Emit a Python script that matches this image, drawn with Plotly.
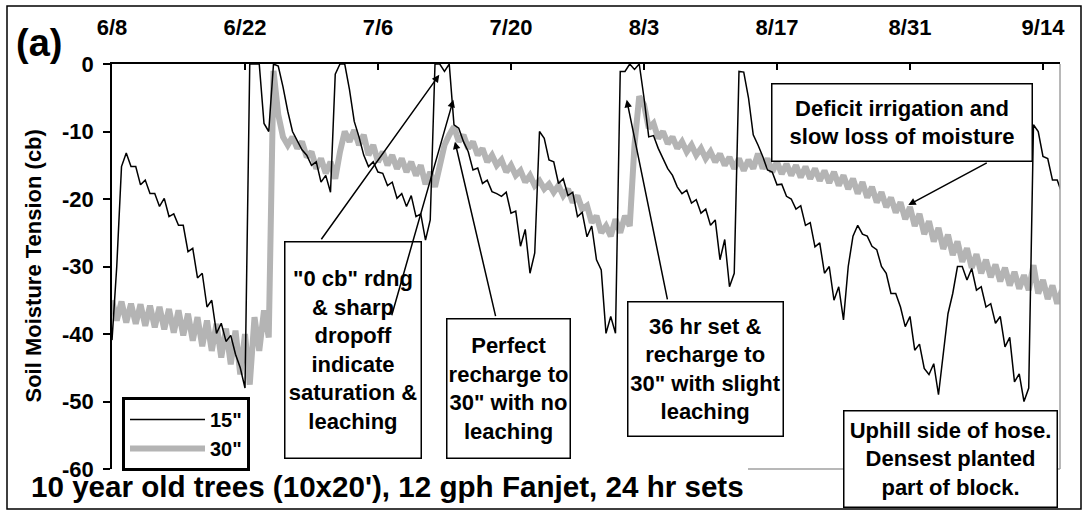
import pandas as pd
import plotly.graph_objects as go

# ---------------- data (readings every 12 hours, starting 6/8) ----------------
start_date = "2005-06-08"
step = "12h"

depth_15 = [
    -40.9, -30.0, -15.2, -13.2, -15.2, -15.2, -17.9, -17.2, -19.2, -19.2,
    -21.1, -19.9, -22.6, -22.2, -23.9, -23.9, -27.8, -27.3, -31.7, -31.0,
    -36.0, -35.0, -39.9, -38.4, -41.1, -40.2, -43.0, -45.0, -48.0, 0.0,
    0.0, 0.0, -8.8, -10.0, 0.0, -0.3, -3.4, -7.0, -10.0, -11.3,
    -12.7, -13.5, -15.0, -14.5, -17.5, -16.5, -19.0, -1.5, 0.0, 0.0,
    -3.8, -8.5, -10.8, -13.5, -15.2, -14.5, -16.0, -16.2, -18.0, -17.5,
    -19.9, -19.2, -21.1, -19.5, -22.6, -22.2, -26.1, -23.1, 0.0, 0.0,
    -1.1, 0.0, -9.0, -9.5, -11.5, -13.0, -15.7, -15.4, -17.7, -17.2,
    -18.9, -19.2, -19.6, -19.0, -22.1, -21.8, -27.0, -24.5, -31.0, -28.0,
    -10.0, -11.0, -14.2, -14.5, -17.7, -17.0, -19.5, -19.0, -22.6, -22.0,
    -25.6, -24.0, -29.0, -30.5, -39.9, -37.4, -39.9, -1.1, -1.1, 0.0,
    -0.8, 0.0, -5.0, -10.8, -10.6, -12.5, -14.0, -15.5, -16.5, -18.2,
    -19.2, -18.7, -20.6, -20.1, -22.1, -21.5, -23.9, -23.1, -29.0, -26.0,
    -33.0, -31.0, -1.1, -1.2, -5.0, -10.5, -12.0, -13.7, -15.7, -16.0,
    -17.9, -17.8, -19.6, -20.0, -21.5, -21.0, -23.9, -23.5, -27.1, -26.5,
    -31.0, -30.0, -35.0, -33.0, -37.9, -30.0, -25.5, -23.9, -25.2, -25.5,
    -27.0, -27.5, -30.0, -31.0, -34.0, -34.0, -36.0, -38.9, -37.4, -42.4,
    -41.5, -45.1, -46.0, -44.4, -49.0, -42.9, -37.0, -34.0, -30.0, -30.0,
    -32.0, -30.3, -33.5, -33.0, -36.0, -35.5, -38.4, -37.4, -41.9, -40.5,
    -47.1, -45.9, -50.0, -48.0, -9.0, -10.0, -13.7, -14.0, -17.2, -17.2,
    -19.2,
]

depth_30 = [
    -35.0, -38.0, -35.2, -38.3, -35.5, -38.5, -35.6, -38.8, -35.8, -39.0,
    -36.0, -39.3, -36.3, -39.8, -36.5, -40.2, -37.0, -41.0, -37.5, -41.8,
    -38.0, -42.5, -38.5, -43.5, -39.2, -44.5, -39.5, -46.0, -40.0, -47.5,
    -37.5, -42.5, -36.5, -40.5, -1.0, -7.5, -10.8, -12.0, -10.8, -12.5,
    -11.5, -13.8, -13.0, -15.5, -14.0, -16.2, -14.5, -17.0, -13.0, -10.0,
    -11.5, -9.8, -12.0, -10.5, -13.5, -12.0, -14.5, -13.0, -15.0, -13.5,
    -15.5, -14.0, -16.0, -14.5, -16.5, -15.0, -17.8, -16.0, -18.2, -15.0,
    -12.0, -10.5, -9.3, -11.5, -10.5, -12.5, -11.5, -13.5, -12.5, -14.5,
    -13.5, -15.0, -14.2, -16.0, -15.0, -16.5, -15.8, -17.5, -16.5, -18.0,
    -17.3, -18.5, -17.8, -19.0, -18.0, -19.5, -18.5, -20.5, -19.5, -21.5,
    -21.0, -23.5, -22.5, -25.0, -24.0, -25.5, -23.0, -25.0, -22.5, -24.0,
    -12.0, -4.8, -6.0, -9.5, -8.8, -11.0, -10.0, -11.8, -10.8, -12.5,
    -11.5, -13.0, -12.0, -13.5, -12.5, -14.0, -13.0, -14.5, -13.3, -15.0,
    -13.8, -15.5, -14.0, -15.8, -14.2, -15.5, -13.3, -15.5, -14.0, -16.0,
    -14.5, -16.3, -14.8, -16.5, -15.0, -16.8, -15.2, -17.0, -15.5, -17.3,
    -15.8, -17.6, -16.0, -18.0, -16.5, -18.5, -17.0, -19.2, -17.5, -19.8,
    -18.2, -20.5, -19.0, -21.2, -19.8, -22.0, -20.5, -23.0, -21.2, -24.0,
    -22.2, -25.2, -23.3, -26.3, -24.3, -27.4, -25.3, -28.3, -26.3, -29.3,
    -27.3, -30.2, -28.2, -31.0, -29.0, -31.6, -29.7, -32.2, -30.2, -32.8,
    -30.8, -33.3, -31.3, -33.5, -29.8, -34.0, -32.0, -34.8, -32.8, -35.5,
    -33.5,
]

series_names = ['15"', '30"']
x_range = ["2005-06-08", "2005-09-15 19:00"]
tick_dates = ["2005-06-08", "2005-06-22", "2005-07-06", "2005-07-20",
              "2005-08-03", "2005-08-17", "2005-08-31", "2005-09-14"]
y_ticks = [0, -10, -20, -30, -40, -50, -60]
y_tick_labels = ["0", "-10", "-20", "-30", "-40", "-50", "-60"]

# ---------------- layout helpers ----------------
FONT = "Liberation Sans, Arial, sans-serif"
W, H = 1083, 510
PL, PT, PW, PH = 112, 64, 948, 405


def px(xp):
    return (xp - PL) / PW


def py(yp):
    return (PT + PH - yp) / PH


times = pd.date_range(start_date, periods=len(depth_15), freq=step)

fig = go.Figure()
fig.add_trace(go.Scatter(
    x=times, y=depth_30, mode="lines", name=series_names[1],
    line=dict(color="#b4b4b4", width=6), legendrank=2,
))
fig.add_trace(go.Scatter(
    x=times, y=depth_15, mode="lines", name=series_names[0],
    line=dict(color="black", width=1.5), legendrank=1,
))

bold = dict(family=FONT, color="black", weight="bold")

fig.update_layout(
    width=W, height=H,
    margin=dict(l=PL, r=W - PL - PW, t=PT, b=H - PT - PH, autoexpand=False),
    paper_bgcolor="white", plot_bgcolor="white",
    showlegend=True,
    legend=dict(
        x=px(122), y=py(397), xanchor="left", yanchor="top",
        bgcolor="white", bordercolor="black", borderwidth=3,
        font=dict(size=20, **bold), itemwidth=75,
    ),
    xaxis=dict(
        type="date", side="top", range=x_range,
        tickvals=tick_dates, tickformat="%-m/%-d",
        ticks="inside", ticklen=6, tickwidth=1.5, tickcolor="black",
        showline=True, linecolor="black", linewidth=1.5,
        showgrid=False, zeroline=False,
        tickfont=dict(size=22, **bold), ticklabelstandoff=18,
    ),
    yaxis=dict(
        range=[-60, 0], tickvals=y_ticks, ticktext=y_tick_labels,
        ticks="outside", ticklen=7, tickwidth=1.5, tickcolor="black",
        showline=True, linecolor="black", linewidth=1.5,
        showgrid=False, zeroline=False,
        tickfont=dict(size=22, **bold), ticklabelstandoff=5,
    ),
)

annotations = []


def box(text, x0, x1, y0, y1):
    annotations.append(dict(
        xref="paper", yref="paper",
        x=px((x0 + x1) / 2), y=py((y0 + y1) / 2),
        xanchor="center", yanchor="middle",
        text=text, showarrow=False, align="center",
        bgcolor="white", bordercolor="black", borderwidth=1.5, borderpad=1,
        width=(x1 - x0) - 5, height=(y1 - y0) - 5,
        font=dict(size=22, **bold),
    ))


box('"0 cb" rdng<br>&amp; sharp<br>dropoff<br>indicate<br>saturation &amp;<br>leaching',
    284, 422, 241, 459)
box('Perfect<br>recharge to<br>30" with no<br>leaching', 446, 571, 318, 459)
box('36 hr set &amp;<br>recharge to<br>30" with slight<br>leaching', 627, 784, 301, 437)
box('Deficit irrigation and<br>slow loss of moisture', 771, 1033, 83, 162)
box('Uphill side of hose.<br>Densest planted<br>part of block.', 843, 1058, 410, 508)

# arrows: head in data coordinates, tail offset in pixels
arrows = [
    ("2005-07-12 10:48", -1.6, -119, 166),
    ("2005-07-13 22:20", -5.3, -62, 217),
    ("2005-07-14 02:24", -11.5, 41, 176),
    ("2005-08-01 04:20", -5.3, 41, 201),
    ("2005-08-30 19:40", -20.9, 80, -43),
]
for hx, hy, ax, ay in arrows:
    annotations.append(dict(
        xref="x", yref="y", x=hx, y=hy, ax=ax, ay=ay, text="",
        showarrow=True, arrowhead=2, arrowsize=1, arrowwidth=1.5,
        arrowcolor="black", standoff=0,
    ))

annotations += [
    dict(xref="paper", yref="paper", x=px(39), y=py(43), text="(a)",
         showarrow=False, xanchor="center", yanchor="middle",
         font=dict(size=38, **bold)),
    dict(xref="paper", yref="paper", x=px(33), y=0.5,
         text="Soil Moisture Tension (cb)", textangle=-90,
         showarrow=False, xanchor="center", yanchor="middle",
         font=dict(size=22, **bold)),
    dict(xref="paper", yref="paper", x=px(387), y=py(486),
         text="10 year old trees (10x20'), 12 gph Fanjet, 24 hr sets",
         showarrow=False, xanchor="center", yanchor="middle",
         font=dict(size=29.6, **bold)),
]
fig.update_layout(annotations=annotations)

fig.update_layout(shapes=[
    # outer frame
    dict(type="rect", xref="paper", yref="paper",
         x0=px(7), x1=px(1081), y0=py(509), y1=py(6),
         line=dict(color="black", width=1.5), layer="below"),
    # gray plot border (right and lower part of bottom)
    dict(type="line", xref="paper", yref="paper", x0=1, x1=1, y0=0, y1=1,
         line=dict(color="#a0a0a0", width=1.5)),
    dict(type="line", xref="paper", yref="paper", x0=px(748), x1=1, y0=0, y1=0,
         line=dict(color="#a0a0a0", width=1.5)),
])

# remove the browser's default page margin so the figure sits at the window origin
fig.write_html(
    "out.html",
    config={"displayModeBar": False},
    post_script="document.body.style.margin='0px';",
)
